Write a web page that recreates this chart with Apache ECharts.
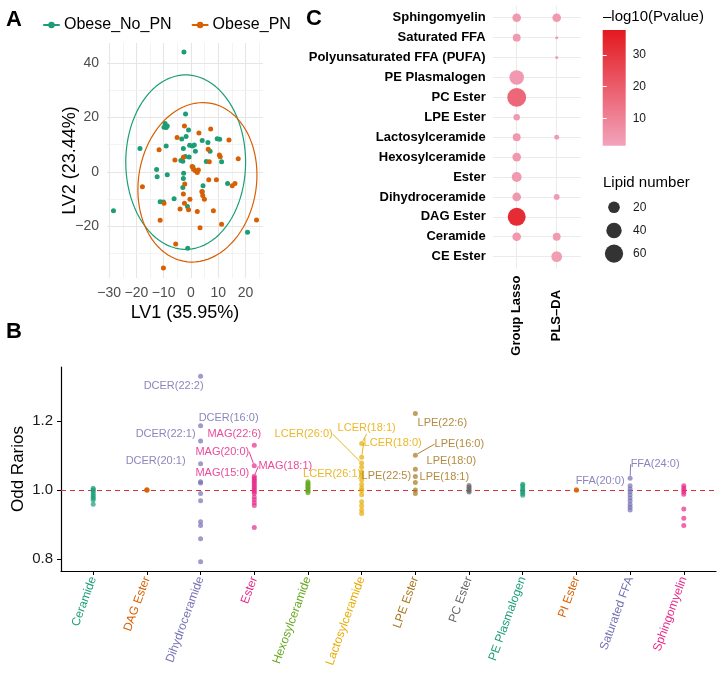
<!DOCTYPE html>
<html><head><meta charset="utf-8">
<script src="https://cdn.jsdelivr.net/npm/echarts@6/dist/echarts.min.js"></script>
<style>html,body{margin:0;padding:0;background:#fff}#c{width:717px;height:674px}</style>
</head><body><div id="c"></div>
<script>
// ---------------- Panel A data ----------------
const noPnX = [-2.6,-2.0,-9.5,-8.7,-9.1,-9.9,-0.9,-3.4,-1.8,-18.7,-9.1,-0.5,0.5,1.2,4.1,6.2,9.6,10.5,7.0,-2.8,1.6,-2.1,-0.7,-3.7,-3.0,0.7,5.6,11.2,-12.6,-12.4,-8.7,-2.7,-2.8,-3.0,4.4,4.1,13.4,-6.2,-11.3,-10.1,-1.3,-28.4,20.7,-1.2];
const noPnY = [44.0,21.3,17.8,16.9,16.3,16.4,15.4,12.1,13.0,8.6,9.5,9.8,9.5,9.9,11.5,10.8,12.2,12.0,7.6,8.6,7.6,5.7,5.5,4.2,3.9,1.8,3.8,3.7,0.9,-1.8,-1.0,-0.5,-2.4,-5.7,-5.1,-7.3,-4.2,-9.8,-10.9,-11.0,-12.7,-14.2,-22.1,-28.0];
const pnX = [-5.1,-2.4,2.9,7.2,13.9,-11.7,6.3,-5.9,-2.8,10.4,10.7,6.7,17.3,0.4,0.9,1.6,2.7,2.3,6.5,9.3,15.1,16.1,-17.8,-2.3,-2.8,4.0,4.3,4.9,-0.4,-9.9,-2.4,-4.0,-0.9,2.3,8.2,-11.3,11.2,3.3,-5.6,-10.1,24.0];
const pnY = [12.6,16.9,14.3,15.8,11.7,8.1,8.3,4.4,5.4,6.2,5.6,3.7,4.8,2.0,1.0,0.4,0.7,-0.2,-2.9,-2.9,-5.1,-4.2,-5.4,-4.4,-8.1,-7.2,-8.6,-10.0,-10.0,-11.5,-11.5,-13.6,-13.9,-14.5,-14.2,-17.7,-19.2,-20.5,-26.4,-35.2,-17.6];
// ellipse: centre x, centre y, semi-axis x, semi-axis y, rotation (rad)
const ellipseNoPn = [-1.95, 3.6, 21.95, 32.0, 0.0];
const ellipsePn = [2.35, -3.8, 21.6, 29.4, 0.15];
const aXTicks = [-30,-20,-10,0,10,20];
const aYTicks = [-20,0,20,40];
const aXGrid = [-30,-25,-20,-15,-10,-5,0,5,10,15,20,25];
const aYGrid = [-30,-20,-10,0,10,20,30,40];

// ---------------- Panel B data ----------------
const bCategories = ['Ceramide','DAG Ester','Dihydroceramide','Ester','Hexosylceramide','Lactosylceramide','LPE Ester','PC Ester','PE Plasmalogen','PI Ester','Saturated FFA','Sphingomyelin'];
const orCeramide = [1.005,1.001,0.998,0.992,0.986,0.981,0.976,0.971,0.959];
const orDAG = [1.001,1.0,0.999];
const orDihydro = [1.330,1.186,1.142,1.076,1.024,1.020,0.990,0.969,0.908,0.897,0.859,0.792];
const orEster = [1.130,1.070,1.040,1.035,1.030,1.025,1.020,1.015,1.010,1.005,1.000,0.995,0.990,0.980,0.972,0.963,0.955,0.891];
const orHexosyl = [1.024,1.020,1.016,1.012,1.008,1.004,1.0,0.996,0.992];
const orLactosyl = [1.135,1.095,1.078,1.066,1.052,1.041,1.029,1.016,1.005,0.998,0.986,0.966,0.954,0.942,0.932];
const orLPE = [1.222,1.101,1.060,1.039,1.022,1.000,0.990];
const orPC = [1.013,1.008,1.003,0.998,0.994];
const orPEP = [1.017,1.012,1.006,1.0,0.995,0.990,0.985];
const orPI = [1.001,0.999];
const orSatFFA = [1.034,1.012,1.003,0.995,0.986,0.977,0.968,0.958,0.950,0.942];
const orSphingo = [1.012,1.006,1.0,0.994,0.988,0.945,0.918,0.897];
const bValues = [orCeramide,orDAG,orDihydro,orEster,orHexosyl,orLactosyl,orLPE,orPC,orPEP,orPI,orSatFFA,orSphingo];
const bYTicks = [0.8,1.0,1.2];
const annotCat = [3,3,3,3,4,4,4,4,6,6,6,6,7,7,7,7,7,11,11];
const annotValue = [1.330,1.186,1.142,1.076,1.130,1.070,1.040,1.035,1.135,1.095,1.078,1.066,1.222,1.101,1.060,1.039,1.022,1.034,1.012];
const annotText = ['DCER(22:2)','DCER(16:0)','DCER(22:1)','DCER(20:1)','MAG(22:6)','MAG(20:0)','MAG(18:1)','MAG(15:0)','LCER(18:1)','LCER(18:0)','LCER(26:0)','LCER(26:1)','LPE(22:6)','LPE(16:0)','LPE(18:0)','LPE(18:1)','LPE(22:5)','FFA(24:0)','FFA(20:0)'];
// label placement (pixels) and connector flag
const annotOffsets = [[-27,10,0],[28,-8,0],[-35,-7,0],[-45,-3,0],[-20,-11,0],[-32,-14,1],[31,-10,1],[-32,-5,0],[5,-15,1],[31,-14,1],[-58,-29,1],[-29.5,7,0],[27,10,0],[44,-11,1],[36,-8,0],[29,0.5,0],[-29,-6,0],[25,-14,1],[-30,-5,0]];

// ---------------- Panel C data ----------------
const cRows = ['CE Ester','Ceramide','DAG Ester','Dihydroceramide','Ester','Hexosylceramide','Lactosylceramide','LPE Ester','PC Ester','PE Plasmalogen','Polyunsaturated FFA (PUFA)','Saturated FFA','Sphingomyelin'];
const cMethods = ['Group Lasso','PLS\u2013DA'];
const glLipidNumber = [null,9,58,9,13,9,7,4,65,35,null,7,9];
const glLogP = [null,4.5,33,4.5,4,4.5,4.5,4,17,4,null,4,4];
const plsLipidNumber = [16,7,null,3,null,null,2,null,null,null,1,1,9];
const plsLogP = [3,3.5,null,3.5,null,null,3.5,null,null,null,3,3,4];
const sizeLegendValues = [20,40,60];
const colorTicks = [10,20,30];
const logPRange = [1.36,37.9];
const lipidRange = [1,65];

// ---------------- styles ----------------
const FONT = 'Liberation Sans, Arial, Helvetica, sans-serif';
const cGreen = '#1b9e77', cOrange = '#d95f02';
const bColors = ['#1b9e77','#d95f02','#7570b3','#e7298a','#66a61e','#e6ab02','#a6761d','#666666','#1b9e77','#d95f02','#7570b3','#e7298a'];
const lowPink = '#f2a3bb', highRed = '#e3191f';
function bubbleSize(n){ return 3.0 + 15.9*Math.sqrt(Math.max(0,(n-lipidRange[0])/(lipidRange[1]-lipidRange[0]))); }
function ellipsePoints(p){
  const [cx,cy,rx,ry,th]=p; const pts=[];
  for(let k=0;k<=90;k++){const t=2*Math.PI*k/90;
    pts.push([cx+rx*Math.cos(t)*Math.cos(th)+ry*Math.sin(t)*Math.sin(th), cy-rx*Math.cos(t)*Math.sin(th)+ry*Math.sin(t)*Math.cos(th)]);}
  return pts;
}
const minus = v => v<0 ? '\u2212'+Math.abs(v) : String(v);

const chart = echarts.init(document.getElementById('c'), null, {renderer:'canvas'});

const grids = [
  {left:107, top:43, width:156, height:235},
  {left:61, top:367, width:655, height:204},
  {left:492.7, top:5.8, width:88, height:262.8},
  {left:602.7, top:30, width:23, height:115.7},
  {left:600, top:195, width:28, height:70}
].map(g=>Object.assign({outerBoundsMode:'none', containLabel:false}, g));

const hidden = {axisLine:{show:false},axisTick:{show:false},axisLabel:{show:false},splitLine:{show:false}};
const richB = {}; bColors.forEach((c,i)=>{ richB['c'+(i+1)] = {color:c, fontSize:12, fontFamily:FONT}; });

const xAxes = [
  {gridIndex:0, type:'value', min:-30.77, max:26.37, axisLine:{show:false}, axisTick:{show:false}, splitLine:{show:false},
   axisLabel:{customValues:aXTicks, formatter:minus, color:'#4d4d4d', fontSize:14, fontFamily:FONT, margin:8},
   name:'LV1 (35.95%)', nameLocation:'middle', nameGap:26, nameMoveOverlap:false, nameTextStyle:{fontSize:18, color:'#000', fontFamily:FONT}},
  {gridIndex:1, type:'value', min:0.4, max:12.6, splitLine:{show:false},
   axisLine:{show:true, onZero:false, lineStyle:{color:'#000', width:1.2}},
   axisTick:{show:true, customValues:[1,2,3,4,5,6,7,8,9,10,11,12], length:4, lineStyle:{color:'#000'}},
   axisLabel:{customValues:[1,2,3,4,5,6,7,8,9,10,11,12], rotate:70, margin:6, fontSize:12, fontFamily:FONT,
     formatter:v=>'{c'+v+'|'+bCategories[v-1]+'}', rich:richB}},
  {gridIndex:2, type:'value', min:0.4, max:2.6, axisLine:{show:false}, axisTick:{show:false}, splitLine:{show:false},
   axisLabel:{customValues:[1,2], rotate:90, margin:47, align:'center', verticalAlign:'middle', padding:[9,0,0,0],
     formatter:v=>cMethods[v-1], fontSize:13, fontWeight:'bold', color:'#000', fontFamily:FONT}},
  Object.assign({gridIndex:3, type:'value', min:0, max:1}, hidden),
  Object.assign({gridIndex:4, type:'value', min:0, max:1}, hidden)
];
const yAxes = [
  {gridIndex:0, type:'value', min:-38.9, max:47.3, axisLine:{show:false}, axisTick:{show:false}, splitLine:{show:false},
   axisLabel:{customValues:aYTicks, formatter:minus, color:'#4d4d4d', fontSize:14, fontFamily:FONT, margin:8},
   name:'LV2 (23.44%)', nameLocation:'middle', nameGap:28, nameMoveOverlap:false, nameTextStyle:{fontSize:18, color:'#000', fontFamily:FONT}},
  {gridIndex:1, type:'value', min:0.7652, max:1.3565, splitLine:{show:false},
   axisLine:{show:true, onZero:false, lineStyle:{color:'#000', width:1.2}},
   axisTick:{show:true, customValues:bYTicks, length:4, lineStyle:{color:'#000'}},
   axisLabel:{customValues:bYTicks, formatter:v=>v.toFixed(1), fontSize:15, color:'#1a1a1a', fontFamily:FONT, margin:8},
   name:'Odd Rarios', nameLocation:'middle', nameGap:34, nameMoveOverlap:false, nameTextStyle:{fontSize:17, color:'#000', fontFamily:FONT}},
  {gridIndex:2, type:'value', min:0.4, max:13.6, axisLine:{show:false}, axisTick:{show:false}, splitLine:{show:false},
   axisLabel:{customValues:[1,2,3,4,5,6,7,8,9,10,11,12,13], formatter:v=>cRows[v-1], fontSize:13, fontWeight:'bold', color:'#000', fontFamily:FONT, margin:7}},
  {gridIndex:3, type:'value', min:logPRange[0], max:logPRange[1], position:'right', z:10, splitLine:{show:false},
   axisLine:{show:false}, axisTick:{show:true, inside:true, customValues:colorTicks, length:4, lineStyle:{color:'#fff', width:1}},
   axisLabel:{customValues:colorTicks, fontSize:12, color:'#1a1a1a', fontFamily:FONT, margin:7}},
  {gridIndex:3, type:'value', min:logPRange[0], max:logPRange[1], position:'left', z:10, splitLine:{show:false},
   axisLine:{show:false}, axisTick:{show:true, inside:true, customValues:colorTicks, length:4, lineStyle:{color:'#fff', width:1}},
   axisLabel:{show:false}},
  {gridIndex:4, type:'value', min:9.4, max:69.85, inverse:true, position:'right', splitLine:{show:false},
   axisLine:{show:false}, axisTick:{show:false},
   axisLabel:{customValues:sizeLegendValues, fontSize:12, color:'#1a1a1a', fontFamily:FONT, margin:5}}
];

const series = [];
// Panel A gridlines
series.push({type:'scatter', xAxisIndex:0, yAxisIndex:0, data:[], silent:true, z:1,
  markLine:{silent:true, z:1, symbol:['none','none'], label:{show:false}, animation:false,
    data: aXGrid.map(v=>({xAxis:v, lineStyle:{color: v%10===0?'#e6e6e6':'#f0f0f0', width: v%10===0?1.1:0.8, type:'solid'}}))
      .concat(aYGrid.map(v=>({yAxis:v, lineStyle:{color: v%20===0?'#e6e6e6':'#f0f0f0', width: v%20===0?1.1:0.8, type:'solid'}})))}});
// ellipses
series.push({type:'line', name:'Obese_No_PN', xAxisIndex:0, yAxisIndex:0, data:ellipsePoints(ellipseNoPn), showSymbol:false, symbol:'circle', symbolSize:5,
  smooth:false, lineStyle:{color:cGreen, width:1.2, type:'solid', join:'round', cap:'round'}, itemStyle:{color:cGreen}, z:4, silent:true});
series.push({type:'line', name:'Obese_PN', xAxisIndex:0, yAxisIndex:0, data:ellipsePoints(ellipsePn), showSymbol:false, symbol:'circle', symbolSize:5,
  smooth:false, lineStyle:{color:cOrange, width:1.2, type:'solid', join:'round', cap:'round'}, itemStyle:{color:cOrange}, z:4, silent:true});
series.push({type:'scatter', name:'Obese_No_PN', xAxisIndex:0, yAxisIndex:0, data:noPnX.map((x,i)=>[x,noPnY[i]]), symbolSize:5, itemStyle:{color:cGreen, opacity:1}, z:3});
series.push({type:'scatter', name:'Obese_PN', xAxisIndex:0, yAxisIndex:0, data:pnX.map((x,i)=>[x,pnY[i]]), symbolSize:5, itemStyle:{color:cOrange, opacity:1}, z:3});

// Panel B reference line
series.push({type:'scatter', xAxisIndex:1, yAxisIndex:1, data:[], silent:true, z:1,
  markLine:{silent:true, z:1, symbol:['none','none'], label:{show:false}, animation:false,
    lineStyle:{color:'#d7303a', width:1.2, type:[5,4]}, data:[{yAxis:1.0}]}});
bValues.forEach((arr,i)=>{
  series.push({type:'scatter', xAxisIndex:1, yAxisIndex:1, data:arr.map(v=>[i+1,v]), symbolSize:5, itemStyle:{color:bColors[i], opacity:0.7}, z:3});
});
series.push({type:'scatter', xAxisIndex:1, yAxisIndex:1, symbolSize:5, itemStyle:{opacity:0}, z:5,
  data: annotCat.map((c,i)=>({value:[c, annotValue[i]],
    label:{show:true, formatter:annotText[i], position:'inside', color:bColors[c-1], opacity:0.85, fontSize:11, fontFamily:FONT},
    labelLine:{show: annotOffsets[i][2]===1, lineStyle:{color:bColors[c-1], width:1, opacity:0.9}}})),
  labelLayout: p => ({dx: annotOffsets[p.dataIndex][0], dy: annotOffsets[p.dataIndex][1]})
});

// Panel C gridlines (below bubbles)
series.push({type:'scatter', xAxisIndex:2, yAxisIndex:2, data:[], silent:true, z:1,
  markLine:{silent:true, z:1, symbol:['none','none'], label:{show:false}, animation:false,
    lineStyle:{color:'#ebebeb', width:1, type:'solid'},
    data: [1,2].map(v=>({xAxis:v})).concat(cRows.map((r,j)=>({yAxis:j+1})))}});
// Panel C bubbles
const bubbleData = [];
cRows.forEach((r,j)=>{
  if(glLipidNumber[j]!=null) bubbleData.push([1, j+1, glLipidNumber[j], glLogP[j]]);
  if(plsLipidNumber[j]!=null) bubbleData.push([2, j+1, plsLipidNumber[j], plsLogP[j]]);
});
const bubbleSeriesIndex = series.length;
series.push({type:'scatter', xAxisIndex:2, yAxisIndex:2, data:bubbleData, symbolSize: d=>bubbleSize(d[2]), z:3, itemStyle:{opacity:1}});
// colour bar
series.push({type:'custom', xAxisIndex:3, yAxisIndex:3, data:[[0,0]], silent:true, z:2,
  renderItem:(params, api)=>{
    const p0 = api.coord([0, logPRange[1]]); const p1 = api.coord([1, logPRange[0]]);
    return {type:'rect', shape:{x:p0[0], y:p0[1], width:p1[0]-p0[0], height:p1[1]-p0[1]},
      style:{fill:new echarts.graphic.LinearGradient(0,0,0,1,[{offset:0,color:highRed},{offset:1,color:lowPink}])}};
  }});
// size legend
series.push({type:'scatter', xAxisIndex:4, yAxisIndex:5, data:sizeLegendValues.map(v=>[0.5,v]), symbolSize:d=>bubbleSize(d[1]), itemStyle:{color:'#000'}, silent:true});

const option = {
  animation:false,
  backgroundColor:'#fff',
  textStyle:{fontFamily:FONT},
  grid: grids, xAxis: xAxes, yAxis: yAxes, series: series,
  legend:{left:43, top:17, padding:0, itemWidth:15, itemHeight:8, itemGap:20, data:['Obese_No_PN','Obese_PN'],
    textStyle:{fontSize:16, color:'#000', fontFamily:FONT}, selectedMode:false},
  visualMap:{show:false, type:'continuous', min:logPRange[0], max:logPRange[1], dimension:3, seriesIndex:bubbleSeriesIndex,
    inRange:{color:[lowPink, highRed]}},
  graphic:[
    {type:'text', left:6, top:9, style:{text:'A', font:'bold 22px '+FONT, fill:'#000'}},
    {type:'text', left:6, top:321, style:{text:'B', font:'bold 22px '+FONT, fill:'#000'}},
    {type:'text', left:306, top:8, style:{text:'C', font:'bold 22px '+FONT, fill:'#000'}},
    {type:'text', left:603, top:9, style:{text:'\u2013log10(Pvalue)', font:'15px '+FONT, fill:'#000'}},
    {type:'text', left:603, top:175, style:{text:'Lipid number', font:'15px '+FONT, fill:'#000'}}
  ]
};
chart.setOption(option);
</script></body></html>
